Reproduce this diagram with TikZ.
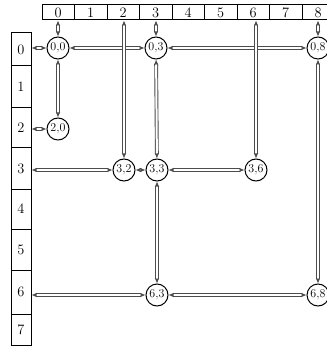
\documentclass[tikz,border=0pt]{standalone}
\usetikzlibrary{arrows.meta}
\tikzset{
  head/.style={
    rectangle,
    draw,
    line width=1pt,
    inner sep=0pt,
    font=\Large
  },
  elem/.style={
    circle,
    draw,
    line width=1pt,
    fill=white,
    inner sep=0pt,
    minimum size=22pt,
    font=\large
  },
  link/.style={{Latex[length=5pt,width=4.5pt]}-{Latex[length=5pt,width=4.5pt]},
    draw=black!70, line width=0.9pt, double=white, double distance=2pt}
}
\begin{document}
\begin{tikzpicture}[x=1pt, y=-1pt]
\useasboundingbox (0,0) rectangle (326,347);
% column heads
\foreach \j in {0,...,8}
  \node[head, minimum width=32.5pt, minimum height=15pt] (c\j) at (58.25+32.5*\j, 12.5) {\j};
% row heads
\foreach \i/\yc/\h in {0/49.5/33, 1/87/42, 2/128/40, 3/168.5/41, 4/209/40, 5/249.5/41, 6/292/44, 7/329.5/31}
  \node[head, minimum width=20pt, minimum height=\h pt] (r\i) at (21, \yc) {\i};

% nonzero elements
\node[elem] (n00) at (58, 48) {0,0};
\node[elem] (n03) at (156, 48) {0,3};
\node[elem] (n08) at (318, 48) {0,8};
\node[elem] (n20) at (58, 129) {2,0};
\node[elem] (n32) at (124, 170) {3,2};
\node[elem] (n33) at (157, 170) {3,3};
\node[elem] (n36) at (256, 170) {3,6};
\node[elem] (n63) at (157, 295) {6,3};
\node[elem] (n68) at (318, 295) {6,8};

% row links
\draw[link] (r0.east |- n00) -- (n00);
\draw[link] (n00) -- (n03);
\draw[link] (n03) -- (n08);
\draw[link] (r2.east |- n20) -- (n20);
\draw[link] (r3.east |- n32) -- (n32);
\draw[link] (n32) -- (n33);
\draw[link] (n33) -- (n36);
\draw[link] (r6.east |- n63) -- (n63);
\draw[link] (n63) -- (n68);
% column links
\draw[link] (c0.south -| n00) -- (n00);
\draw[link] (n00) -- (n20);
\draw[link] (c2.south -| n32) -- (n32);
\draw[link] (c3.south -| n03) -- (n03);
\draw[link] (n03) -- (n33);
\draw[link] (n33) -- (n63);
\draw[link] (c6.south -| n36) -- (n36);
\draw[link] (c8.south -| n08) -- (n08);
\draw[link] (n08) -- (n68);
\end{tikzpicture}
\end{document}
